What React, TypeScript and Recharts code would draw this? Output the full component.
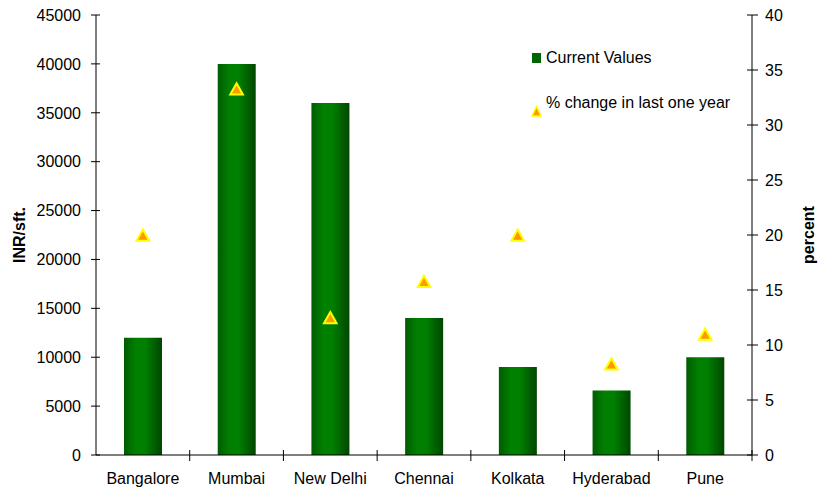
import React from 'react';
import { ComposedChart, Bar, Scatter, XAxis, YAxis, Legend } from 'recharts';

const categories = ['Bangalore', 'Mumbai', 'New Delhi', 'Chennai', 'Kolkata', 'Hyderabad', 'Pune'];
const currentValues = [12000, 40000, 36000, 14000, 9000, 6600, 10000];
const pctChange = [20, 33.3, 12.5, 15.8, 20, 8.3, 11];
const leftTicks = [0, 5000, 10000, 15000, 20000, 25000, 30000, 35000, 40000, 45000];
const rightTicks = [0, 5, 10, 15, 20, 25, 30, 35, 40];

const data = categories.map((c, i) => ({ city: c, value: currentValues[i], pct: pctChange[i] }));

const W = 818;
const H = 491;
const FONT = '"Liberation Sans", Arial, Helvetica, sans-serif';
const FS = 16;
const LEFT_W = 96;
const RIGHT_W = 66;
const BAND = (W - LEFT_W - RIGHT_W) / categories.length;

const LeftTick = (p: any) => (
  <g>
    <line x1={p.x - 5} x2={p.x + 4} y1={p.y} y2={p.y} stroke="#000" strokeWidth={1} />
    <text x={p.x - 15} y={p.y} dy="0.36em" textAnchor="end" fontFamily={FONT} fontSize={FS} fill="#000">
      {p.payload.value}
    </text>
  </g>
);

const RightTick = (p: any) => (
  <g>
    <line x1={p.x - 5} x2={p.x + 6} y1={p.y} y2={p.y} stroke="#000" strokeWidth={1} />
    <text x={p.x + 13} y={p.y} dy="0.36em" textAnchor="start" fontFamily={FONT} fontSize={FS} fill="#000">
      {p.payload.value}
    </text>
  </g>
);

const XTick = (p: any) => (
  <g>
    <line x1={p.x + BAND / 2} x2={p.x + BAND / 2} y1={p.y - 5} y2={p.y + 6} stroke="#000" strokeWidth={1} />
    <text x={p.x} y={p.y + 29} textAnchor="middle" fontFamily={FONT} fontSize={FS} fill="#000">
      {p.payload.value}
    </text>
  </g>
);

const Triangle = (p: any) => {
  const { cx, cy } = p;
  if (cx == null || cy == null) return null;
  const d = `M${cx},${cy - 5.5} L${cx + 6.3},${cy + 5.7} L${cx - 6.3},${cy + 5.7} Z`;
  return <path d={d} fill="#FF9900" stroke="#FFFF00" strokeWidth={2} strokeLinejoin="miter" />;
};

const leftLabel = (p: any) => {
  const vb = p.viewBox || { x: 0, y: 15, width: LEFT_W, height: 440 };
  const x = vb.x + 24.5;
  const y = vb.y + vb.height / 2;
  return (
    <text x={x} y={y} transform={`rotate(-90, ${x}, ${y})`} textAnchor="middle" fontFamily={FONT} fontSize={FS} fontWeight="bold" fill="#000">
      INR/sft.
    </text>
  );
};

const rightLabel = (p: any) => {
  const vb = p.viewBox || { x: W - RIGHT_W, y: 15, width: RIGHT_W, height: 440 };
  const x = vb.x + 61.5;
  const y = vb.y + vb.height / 2;
  return (
    <text x={x} y={y} transform={`rotate(-90, ${x}, ${y})`} textAnchor="middle" fontFamily={FONT} fontSize={FS} fontWeight="bold" fill="#000">
      percent
    </text>
  );
};

const LegendContent = () => (
  <div style={{ position: 'relative', width: 220, height: 80, fontFamily: FONT, fontSize: FS, color: '#000', lineHeight: '16px' }}>
    <svg style={{ position: 'absolute', left: 2, top: 9 }} width={10} height={11}>
      <rect x={0} y={0} width={9} height={10} fill="#006400" />
    </svg>
    <span style={{ position: 'absolute', left: 16, top: 5.5, whiteSpace: 'nowrap' }}>Current Values</span>
    <svg style={{ position: 'absolute', left: 1, top: 61 }} width={12} height={13}>
      <path d="M5.5,1.5 L10,11 L1,11 Z" fill="#FF9900" stroke="#FFFF00" strokeWidth={1.5} />
    </svg>
    <span style={{ position: 'absolute', left: 16, top: 50.5, whiteSpace: 'nowrap' }}>% change in last one year</span>
  </div>
);

export default function App() {
  return (
    <div style={{ position: 'absolute', left: 0, top: 0, width: W, height: H, background: '#fff' }}>
      <ComposedChart width={W} height={H} data={data} margin={{ top: 15, right: 0, bottom: 6, left: 0 }}>
        <defs>
          <linearGradient id="barGrad" x1="0" y1="0" x2="1" y2="0">
            <stop offset="0%" stopColor="#005c00" />
            <stop offset="30%" stopColor="#007f00" />
            <stop offset="55%" stopColor="#008000" />
            <stop offset="100%" stopColor="#004600" />
          </linearGradient>
        </defs>
        <XAxis
          dataKey="city"
          height={30}
          stroke="#000"
          tickLine={false}
          tickSize={0}
          tickMargin={0}
          tick={<XTick />}
          interval={0}
        />
        <YAxis
          yAxisId="left"
          orientation="left"
          width={LEFT_W}
          domain={[0, 45000]}
          ticks={leftTicks}
          stroke="#000"
          tickLine={false}
          tickSize={0}
          tickMargin={0}
          tick={<LeftTick />}
          interval={0}
          label={leftLabel}
        />
        <YAxis
          yAxisId="right"
          orientation="right"
          width={RIGHT_W}
          domain={[0, 40]}
          ticks={rightTicks}
          stroke="#000"
          tickLine={false}
          tickSize={0}
          tickMargin={0}
          tick={<RightTick />}
          interval={0}
          label={rightLabel}
        />
        <Legend
          layout="vertical"
          align="center"
          verticalAlign="middle"
          wrapperStyle={{ left: 530, top: 44, width: 220, height: 80 }}
          content={<LegendContent />}
        />
        <Bar yAxisId="left" dataKey="value" name="Current Values" barSize={38} fill="url(#barGrad)" isAnimationActive={false} />
        <Scatter yAxisId="right" dataKey="pct" name="% change in last one year" shape={<Triangle />} isAnimationActive={false} />
      </ComposedChart>
    </div>
  );
}
